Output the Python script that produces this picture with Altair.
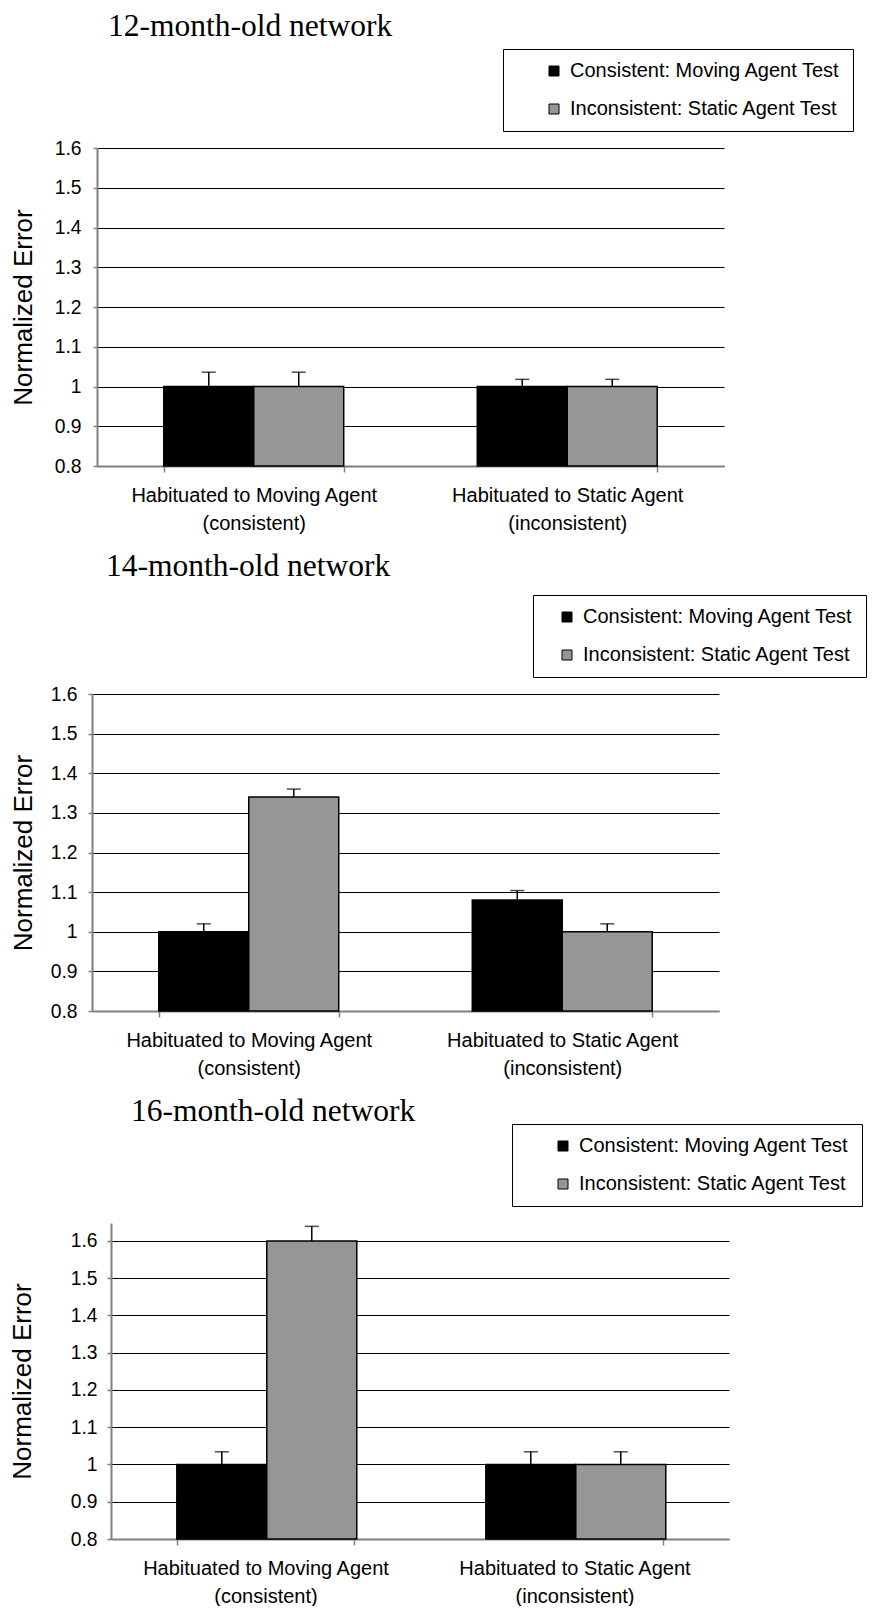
import altair as alt
import pandas as pd

groups = ["Habituated to Moving Agent|(consistent)", "Habituated to Static Agent|(inconsistent)"]
series = ["Consistent: Moving Agent Test", "Inconsistent: Static Agent Test"]
titles = ["12-month-old network", "14-month-old network", "16-month-old network"]
y_ticks = [0.8, 0.9, 1.0, 1.1, 1.2, 1.3, 1.4, 1.5, 1.6]

# order: (moving group: consistent, inconsistent), (static group: consistent, inconsistent)
m12_values = [1.00, 1.00, 1.00, 1.00]
m12_err = [0.036, 0.036, 0.018, 0.018]
m14_values = [1.00, 1.34, 1.08, 1.00]
m14_err = [0.02, 0.02, 0.024, 0.02]
m16_values = [1.00, 1.60, 1.00, 1.00]
m16_err = [0.034, 0.039, 0.034, 0.034]

GRAY = "#969696"
AXIS_GRAY = "#808080"
SANS = "Liberation Sans"
SERIF = "Liberation Serif"


def panel(title, values, errs, plot_w, shift, height, ymax, title_dx, title_offset,
          title_pad, label_pad, legend_x, legend_y, sym_off):
    g = [groups[0], groups[0], groups[1], groups[1]]
    s = [series[0], series[1], series[0], series[1]]
    df = pd.DataFrame({
        "group": g,
        "series": s,
        "value": values,
        "upper": [v + e for v, e in zip(values, errs)],
    })
    width = plot_w + shift
    x = alt.X(
        "group:N", sort=groups,
        scale=alt.Scale(paddingInner=0.426, paddingOuter=0.213, range=[shift, width]),
        axis=alt.Axis(
            title=None, labelExpr="split(datum.label, '|')", tickBand="extent",
            labelFont=SANS, labelFontSize=20, labelColor="black", labelAngle=0,
            labelLimit=500, labelLineHeight=28, labelPadding=13, tickSize=6,
            tickColor=AXIS_GRAY, tickWidth=1.5, domainColor=AXIS_GRAY,
            domainWidth=2, grid=False,
        ),
    )
    xo = alt.XOffset("series:N", sort=series, scale=alt.Scale(paddingInner=0, paddingOuter=0))
    yscale = alt.Scale(domain=[0.8, ymax], nice=False, zero=False)
    yaxis = alt.Axis(
        title="Normalized Error", titleFont=SANS, titleFontSize=26,
        titleFontWeight="normal", titleColor="black", titlePadding=title_pad,
        values=y_ticks, labelOverlap=False, labelExpr="format(datum.value, '~g')",
        labelFont=SANS, labelFontSize=19.3, offset=-shift,
        labelColor="black", labelPadding=label_pad, tickSize=4,
        tickColor=AXIS_GRAY, tickWidth=1.5, domainColor=AXIS_GRAY,
        domainWidth=2, grid=True, gridColor="black", gridWidth=1,
    )
    base = alt.Chart(df)
    bars = base.mark_bar(stroke="black", strokeWidth=1.5).encode(
        x=x, xOffset=xo,
        y=alt.Y("value:Q", scale=yscale, axis=yaxis),
        y2=alt.datum(0.8),
        fill=alt.Fill(
            "series:N", sort=series,
            scale=alt.Scale(domain=series, range=["black", GRAY]),
            legend=alt.Legend(
                orient="none", legendX=legend_x, legendY=legend_y, title=None,
                symbolType="square", symbolSize=100, symbolStrokeColor="black",
                symbolStrokeWidth=1, labelFont=SANS, labelFontSize=20,
                labelColor="black", strokeColor="black", fillColor="white",
                padding=12, rowPadding=18, symbolOffset=sym_off, labelOffset=6,
                labelLimit=600,
            ),
        ),
    )
    stems = base.mark_rule(color="black", strokeWidth=1.5).encode(
        x=x, xOffset=xo, y=alt.Y("value:Q", scale=yscale, axis=yaxis), y2="upper:Q",
    )
    caps = base.mark_tick(color="black", size=14, thickness=1.5, orient="horizontal").encode(
        x=x, xOffset=xo, y=alt.Y("upper:Q", scale=yscale, axis=yaxis),
    )
    return alt.layer(bars, stems, caps).properties(
        width=width, height=height,
        title=alt.TitleParams(
            title, font=SERIF, fontSize=31.5, fontWeight="normal", color="black",
            anchor="start", frame="group", dx=title_dx + shift, offset=title_offset,
        ),
    )


# common plot origin is panel 2's; panels 1 and 3 are shifted right inside their own width
p1 = panel(titles[0], m12_values, m12_err, 627, 5, 318, 1.6, 11, 6, 18, 12, 411, -99, 29)
p2 = panel(titles[1], m14_values, m14_err, 627, 0, 317, 1.6, 14, 12, 14, 11, 441, -99, 12)
p3 = panel(titles[2], m16_values, m16_err, 618, 19, 316, 1.648, 20, -4, 35, 10, 420, -99, 29)

chart = (
    alt.concat(p1, p2, p3, columns=1, align="none", spacing=18)
    .resolve_scale(fill="independent")
    .resolve_legend(fill="independent")
    .configure_view(stroke=None)
    .properties(padding={"left": 1, "top": 3, "right": 0, "bottom": 0})
)
chart.save("out.html", embed_options={"renderer": "svg", "actions": False})
